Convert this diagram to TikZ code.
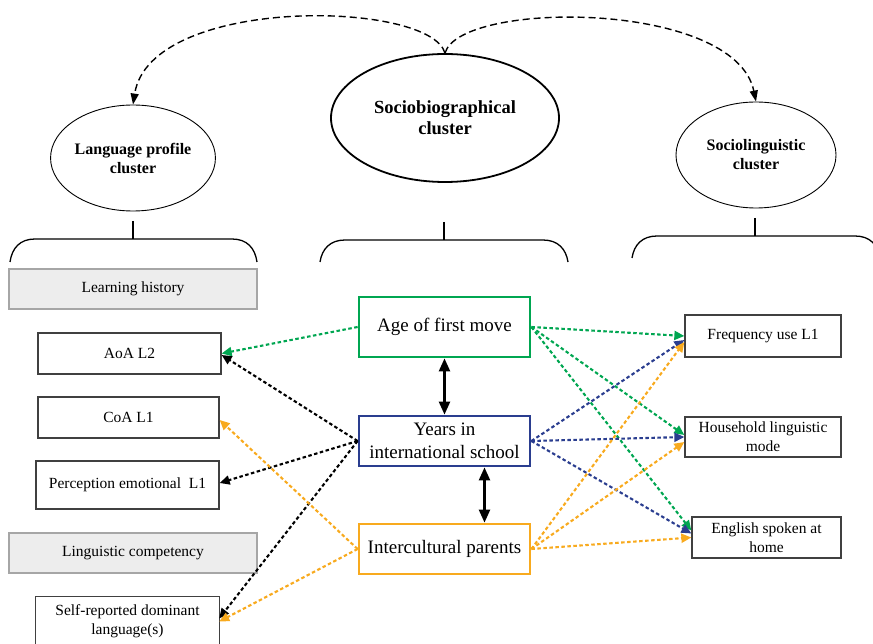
\documentclass[tikz,border=0pt]{standalone}
\usepackage{fontspec}
\setmainfont{Liberation Serif}
\usetikzlibrary{shapes.geometric,arrows.meta}
\definecolor{cgreen}{HTML}{00A651}
\definecolor{cblue}{HTML}{2A3D8F}
\definecolor{corange}{HTML}{F8AA1E}
\definecolor{cgrayfill}{HTML}{EDEDED}
\begin{document}
\begin{tikzpicture}[x=1pt,y=-1pt,
  every node/.style={align=center, inner sep=0pt, font=\fontsize{15.5}{19}\selectfont},
  clus/.style={ellipse, draw, line width=0.9pt, font=\bfseries\fontsize{16}{19}\selectfont},
  bigclus/.style={ellipse, draw, line width=1.8pt, font=\bfseries\fontsize{18.5}{21}\selectfont},
  plainbox/.style={rectangle, draw=black!75, line width=1.3pt},
  graybox/.style={rectangle, draw=gray!70, fill=cgrayfill, line width=1.3pt},
  keybox/.style={rectangle, line width=2.8pt, minimum width=171pt, font=\fontsize{19}{23}\selectfont},
  topline/.style={line width=1.4pt, dash pattern=on 7pt off 4pt, -{Triangle[length=11pt,width=8pt]}},
  bracket/.style={line width=1.3pt},
  link/.style={line width=2.1pt, dash pattern=on 3.5pt off 2.5pt, -{Triangle[length=10pt,width=9pt]}},
  both/.style={line width=2.4pt, {Triangle[length=13pt,width=11pt]}-{Triangle[length=13pt,width=11pt]}}
]
\useasboundingbox (0,0) rectangle (873,644);

% cluster ellipses
\node[clus, minimum width=160pt, minimum height=106pt] (lp) at (133,158) {Language profile\\cluster};
\node[bigclus, minimum width=228pt, minimum height=128pt] (sb) at (445,118) {Sociobiographical\\cluster};
\node[clus, minimum width=160pt, minimum height=106pt] (sl) at (756,155) {Sociolinguistic\\cluster};

\draw[topline] (sb.north) .. controls (430,0) and (150,-5) .. (lp.north);
\draw[topline] (sb.north) .. controls (460,0) and (735,0) .. (sl.north);

% brackets
\draw[bracket] (133,221) -- (133,239);
\draw[bracket] (10,262) .. controls (12,248) and (20,239) .. (35,239) -- (232,239) .. controls (247,239) and (255,248) .. (257,262);
\draw[bracket] (444,222) -- (444,240);
\draw[bracket] (320,262) .. controls (322,249) and (330,240) .. (345,240) -- (543,240) .. controls (558,240) and (566,249) .. (568,262);
\draw[bracket] (755,218) -- (755,236);
\draw[bracket] (632,258) .. controls (634,245) and (642,236) .. (657,236) -- (855,236) .. controls (870,236) and (878,245) .. (880,258);

% left boxes
\node[graybox, minimum width=248pt, minimum height=40pt] (lh) at (133,289) {Learning history};
\node[plainbox, minimum width=183pt, minimum height=41pt] (aoa) at (129.5,353.5) {AoA L2};
\node[plainbox, minimum width=181pt, minimum height=41pt] (coa) at (128.5,417.5) {CoA L1};
\node[plainbox, minimum width=183pt, minimum height=48pt] (pe) at (127.5,485) {Perception emotional\ \ L1};
\node[graybox, minimum width=248pt, minimum height=40pt] (lc) at (133,553) {Linguistic competency};
\node[minimum width=183pt, minimum height=49pt] (sr) at (127.5,621.5) {Self-reported dominant\\language(s)};
\draw[black!75, line width=1.3pt] (sr.north west) rectangle ([yshift=-20pt]sr.south east);

% key boxes
\node[keybox, draw=cgreen, minimum height=60pt] (age) at (444.5,327) {Age of first move};
\node[keybox, draw=cblue, minimum height=50pt] (yis) at (444.5,441) {Years in\\international school};
\node[keybox, draw=corange, minimum height=50pt] (icp) at (444.5,549) {Intercultural parents};

% right boxes
\node[plainbox, minimum width=156pt, minimum height=42pt] (fu) at (763,336) {Frequency use L1};
\node[plainbox, minimum width=156pt, minimum height=40pt] (hlm) at (763,437) {Household linguistic\\mode};
\node[plainbox, minimum width=149pt, minimum height=41pt] (esh) at (766.5,537.5) {English spoken at\\home};

% double arrows
\draw[both] (age.south) -- (yis.north);
\draw[both] ([xshift=40pt]yis.south) -- ([xshift=40pt]icp.north);

% left links
\draw[link, cgreen] (age.west) -- (aoa.east);
\draw[link, black] (yis.west) -- ([yshift=-1.5pt]aoa.east);
\draw[link, black] (yis.west) -- ([yshift=2pt]pe.east);
\draw[link, black] (yis.west) -- ([yshift=3pt]sr.east);
\draw[link, corange] (icp.west) -- ([yshift=-2.5pt]coa.east);
\draw[link, corange] (icp.west) -- (sr.east);

% right links
\draw[link, cgreen] (age.east) -- (fu.west);
\draw[link, cgreen] (age.east) -- ([yshift=2pt]hlm.west);
\draw[link, cgreen] (age.east) -- ([yshift=7pt]esh.west);
\draw[link, cblue] (yis.east) -- ([yshift=-4pt]fu.west);
\draw[link, cblue] (yis.east) -- (hlm.west);
\draw[link, cblue] (yis.east) -- ([yshift=4pt]esh.west);
\draw[link, corange] (icp.east) -- ([yshift=-6pt]fu.west);
\draw[link, corange] (icp.east) -- ([yshift=-5pt]hlm.west);
\draw[link, corange] (icp.east) -- (esh.west);
\end{tikzpicture}
\end{document}
